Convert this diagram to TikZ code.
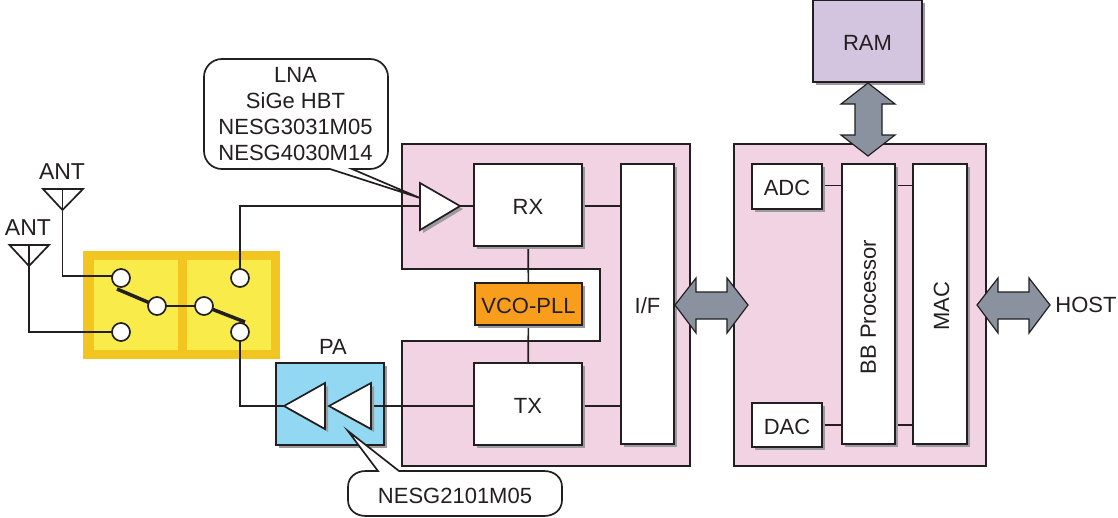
\documentclass[tikz,border=0pt]{standalone}
\usepackage{fontspec}
\setmainfont{Liberation Sans}
\usetikzlibrary{shadows,calc}
\definecolor{ink}{HTML}{231F20}
\definecolor{pinkfill}{HTML}{F2D3E4}
\definecolor{yellowfill}{HTML}{F9EC4A}
\definecolor{yellowedge}{HTML}{F3C520}
\definecolor{bluefill}{HTML}{92D8F2}
\definecolor{orangefill}{HTML}{F99D1C}
\definecolor{lilacfill}{HTML}{D3C5DF}
\definecolor{arrowfill}{HTML}{8A919F}
\definecolor{shadowgray}{HTML}{9A9A9F}
\pgfdeclarelayer{back}
\pgfdeclarelayer{wire}
\pgfsetlayers{back,wire,main}
\newcommand{\lowered}[1]{\raisebox{-1.5pt}[\height][\depth]{#1}}
\tikzset{
  every node/.style={text=ink,font=\fontsize{22}{26}\selectfont},
  line/.style={draw=ink,line width=1.7pt,line join=miter},
  casing/.style={line,fill=pinkfill},
  sdw/.style={drop shadow={shadow xshift=3pt,shadow yshift=-3pt,fill=shadowgray,opacity=1}},
  blockbox/.style={line,fill=white,sdw,inner sep=0pt,outer sep=0pt,align=center},
  port/.style={circle,line,fill=white,minimum size=18pt,inner sep=0pt,outer sep=0pt},
  wirepath/.style={line},
  swarm/.style={draw=ink,line width=3.5pt},
  amp/.style={line,fill=white,sdw},
  bigarrow/.style={line,line width=1.2pt,fill=arrowfill},
  bubble/.style={line,fill=white},
  label text/.style={inner sep=0pt},
  antlabel/.style={inner sep=0pt,font=\fontsize{23}{26}\selectfont}
}
\begin{document}
\begin{tikzpicture}[x=1pt,y=-1pt]
\useasboundingbox (0,0) rectangle (1118,517);

% background panels
\begin{pgfonlayer}{back}
  \fill[yellowedge] (83,251) rectangle (280,359);
  \fill[yellowfill] (94,260) rectangle (178,350);
  \fill[yellowfill] (187,260) rectangle (271,350);
  \draw[casing] (402,144) -- (690,144) -- (690,466) -- (402,466) -- (402,341) -- (600,341) -- (600,269) -- (402,269) -- cycle;
  \draw[casing] (734,144) rectangle (986,466);
  \node[blockbox,fill=bluefill,minimum width=108pt,minimum height=82pt] (pa) at (330,404) {};
\end{pgfonlayer}

% blocks
\node[blockbox,minimum width=108pt,minimum height=82pt] (rx) at (528,205) {\lowered{RX}};
\node[blockbox,minimum width=108pt,minimum height=82pt] (tx) at (528,404) {\lowered{TX}};
\node[blockbox,fill=orangefill,minimum width=107pt,minimum height=42pt] (vco) at (528.5,304) {\lowered{VCO-PLL}};
\node[blockbox,minimum width=53pt,minimum height=280pt] (if) at (647.5,304) {\lowered{I/F}};
\node[blockbox,minimum width=70pt,minimum height=45pt] (adc) at (787,186.5) {\lowered{ADC}};
\node[blockbox,minimum width=70pt,minimum height=44pt] (dac) at (787,425) {\lowered{DAC}};
\node[blockbox,minimum width=53pt,minimum height=280pt] (bb) at (868.5,304) {\rotatebox{90}{BB Processor\hspace{6pt}}};
\node[blockbox,minimum width=54pt,minimum height=280pt] (mac) at (940,304) {\hspace{3pt}\rotatebox{90}{\hspace{-4pt}MAC}};
\node[blockbox,fill=lilacfill,minimum width=109pt,minimum height=82pt] (ram) at (867.5,41) {\lowered{RAM}};

% switch ports
\node[port] (p1) at (121,278) {};
\node[port] (p2) at (121,332) {};
\node[port] (p3) at (157,306) {};
\node[port] (p4) at (204,306) {};
\node[port] (p5) at (240,278) {};
\node[port] (p6) at (240,332) {};

% antennas
\node[antlabel] (ant1) at (62,172) {ANT};
\node[antlabel] (ant2) at (28,228) {ANT};
\coordinate (a1tip) at (62.5,210);
\coordinate (a2tip) at (29,266);
\draw[line] (43,189) -- (83,189) -- (a1tip) -- cycle;
\draw[line] (62.5,189) -- (a1tip);
\draw[line] (9.5,245) -- (49,245) -- (a2tip) -- cycle;
\draw[line] (29,245) -- (a2tip);

% LNA callout
\draw[bubble] (420,198) -- (352,169) -- (370,169)
  .. controls (380,169) and (388,161) .. (388,151) -- (388,77)
  .. controls (388,67) and (380,59) .. (370,59) -- (222,59)
  .. controls (212,59) and (204,67) .. (204,77) -- (204,151)
  .. controls (204,161) and (212,169) .. (222,169) -- (330,169) -- cycle;
\node[label text,align=center] (lnalabel) at (295.5,114) {LNA\\SiGe HBT\\NESG3031M05\\NESG4030M14};

% LNA and PA amplifiers
\coordinate (lnain) at (420,206);
\coordinate (lnaout) at (460,206);
\draw[amp] (420,183) -- (lnaout) -- (420,230) -- cycle;
\coordinate (pa1tip) at (284,406);
\coordinate (pa2tip) at (329,406);
\coordinate (pa2base) at (371,406);
\draw[amp] (pa1tip) -- (325,383) -- (325,429) -- cycle;
\draw[amp] (pa2tip) -- (371,383) -- (371,429) -- cycle;
\node[label text] (palabel) at (333,347) {PA};

% PA callout
\draw[bubble] (348,431) -- (399,471) -- (544,471)
  .. controls (554,471) and (562,477) .. (562,487) -- (562,500)
  .. controls (562,510) and (554,516) .. (544,516) -- (366,516)
  .. controls (356,516) and (348,510) .. (348,500) -- (348,487)
  .. controls (348,477) and (356,471) .. (366,471) -- (378,471) -- cycle;
\node[label text] (palabelb) at (455,496) {NESG2101M05};

% connectors
\begin{pgfonlayer}{wire}
  \draw[wirepath] (a1tip) |- ([yshift=2pt]p1.west);
  \draw[wirepath] (a2tip) |- (p2.west);
  \draw[wirepath] (p3) -- (p4);
  \draw[wirepath] (p5) |- (lnain);
  \draw[wirepath] (p6) |- (pa1tip);
  \draw[wirepath] (lnaout) -- (lnaout -| rx.west);
  \draw[wirepath] (pa2base) -- (pa2base -| tx.west);
  \draw[wirepath] (rx) -- (vco);
  \draw[wirepath] (vco) -- (tx);
  \draw[wirepath] ([yshift=-1pt]rx.east) -- ([yshift=-1pt]rx.east -| if.west);
  \draw[wirepath] ([yshift=-2pt]tx.east) -- ([yshift=-2pt]tx.east -| if.west);
  \draw[wirepath] ([yshift=1pt]adc.east) -- ([yshift=1pt]adc.east -| bb.west);
  \draw[wirepath] ([yshift=1pt]adc.east -| bb.east) -- ([yshift=1pt]adc.east -| mac.west);
  \draw[wirepath] (dac.east) -- (dac.east -| bb.west);
  \draw[wirepath] (dac.east -| bb.east) -- (dac.east -| mac.west);
\end{pgfonlayer}

% switch arms
\coordinate (arm1) at (117,289);
\coordinate (arm2) at (245,322);
\draw[swarm] (arm1) -- (p3);
\draw[swarm] (p4) -- (arm2);

% block arrows
\draw[bigarrow] (868,83) -- (895,104) -- (882,104) -- (882,135) -- (895,135) -- (868,156) -- (841,135) -- (855,135) -- (855,104) -- (841,104) -- cycle;
\draw[bigarrow] (675,305) -- (696,278) -- (696,292) -- (727,292) -- (727,278) -- (748,305) -- (727,333) -- (727,319) -- (696,319) -- (696,333) -- cycle;
\draw[bigarrow] (977,305) -- (998,278) -- (998,292) -- (1029,292) -- (1029,278) -- (1050,305) -- (1029,333) -- (1029,319) -- (998,319) -- (998,333) -- cycle;
\node[label text] (host) at (1086,305) {HOST};
\end{tikzpicture}
\end{document}
